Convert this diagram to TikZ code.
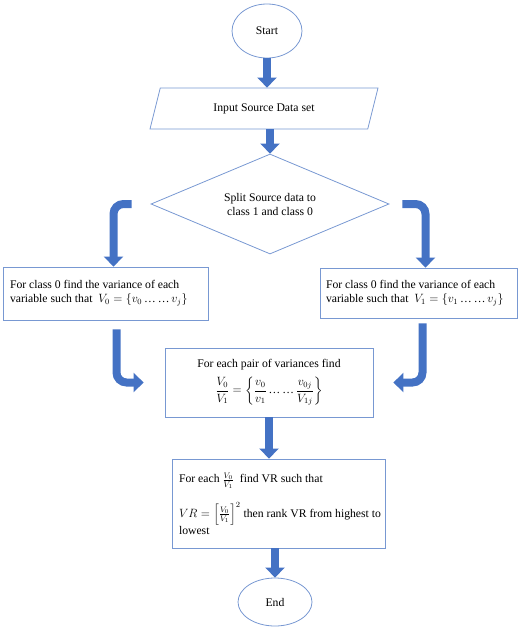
\documentclass[tikz,border=0pt]{standalone}
\usepackage{amsmath, amssymb}
\usepackage{fontspec}
\setmainfont{Liberation Serif}
\usepackage{tikz}
\usetikzlibrary{shapes.geometric, arrows.meta}

\definecolor{lineblue}{RGB}{120,152,210}
\definecolor{arrowblue}{RGB}{68,114,196}

\newcommand{\twodots}{\text{\,…\,…\,}}

\tikzset{
  terminal/.style={ellipse, draw=lineblue, thick, inner sep=0pt},
  iobox/.style={trapezium, trapezium left angle=45, trapezium right angle=135,
    draw=lineblue, thick, inner sep=0pt, trapezium stretches body},
  decision/.style={diamond, draw=lineblue, thick, inner sep=0pt, aspect=2.38, align=center},
  process/.style={rectangle, draw=lineblue, thick, inner xsep=7pt, inner ysep=3pt},
  flow/.style={draw=arrowblue, line width=8pt, -{Triangle[width=19pt,length=10pt]}},
}

\begin{document}
\begin{tikzpicture}[x=1pt, y=-1pt, font=\fontsize{11.7}{14}\selectfont]
  \useasboundingbox (0, 0) rectangle (519, 629);

  \node [terminal, minimum width=70pt, minimum height=54pt] (start) at (267, 31) {Start};
  \node [iobox, minimum width=228pt, minimum height=41pt] (input) at (264, 108.5) {Input Source Data set};
  \node [decision, minimum width=238pt, minimum height=100pt] (split) at (270, 204)
    {Split Source data to\\class 1 and class 0};

  \node [process, minimum width=205pt, minimum height=53pt, text width=191pt, align=flush left] (box0) at (105.5, 293.5)
    {For class 0 find the variance of each\\variable such that \ ${V_0=\left\{v_0\twodots v_j\right\}}$};
  \node [process, minimum width=197pt, minimum height=50pt, text width=185pt, inner xsep=6pt, align=flush left] (box1) at (418.5, 293)
    {For class 0 find the variance of each\\variable such that \ ${V_1=\left\{v_1\twodots v_j\right\}}$};

  \node [process, minimum width=208pt, minimum height=69pt, text width=194pt, align=flush center] (mid) at (269, 382.5)
    {For each pair of variances find\\[5pt]
     ${\displaystyle\frac{V_0}{V_1}=\biggl\{\frac{v_0}{v_1}\twodots\frac{v_{0j}}{V_{1j}}\biggr\}}$};

  \node [process, minimum width=213pt, minimum height=89pt, text width=199pt, align=flush left] (vr) at (278.5, 503.5)
    {For each $\frac{V_0}{V_1}$ \ find VR such that\\[13pt]
     \mbox{${VR=\left[\frac{V_0}{V_1}\right]^2}$ then rank VR from highest to}\\lowest};

  \node [terminal, minimum width=74pt, minimum height=48pt] (finish) at (275, 602) {End};

  % straight flow
  \draw [flow] (start.south) -- (input.north -| start.south);
  \draw [flow] (input.south -| split.north) -- (split.north);
  \draw [flow] (mid.south) -- (mid.south |- vr.north);
  \draw [flow] (vr.south -| finish.north) -- (finish.north);

  % bent flow
  \draw [flow, rounded corners=10pt] ([xshift=-19pt]split.west) -| ([xshift=8pt]box0.north);
  \draw [flow, rounded corners=10pt] ([xshift=13pt]split.east) -| ([xshift=7pt]box1.north);
  \draw [flow, rounded corners=10pt] ([xshift=11pt, yshift=-9pt]box0.south) |- ([xshift=-21pt]mid.west);
  \draw [flow, rounded corners=10pt] ([xshift=4pt, yshift=-5pt]box1.south) |- ([xshift=20pt]mid.east);
\end{tikzpicture}
\end{document}
